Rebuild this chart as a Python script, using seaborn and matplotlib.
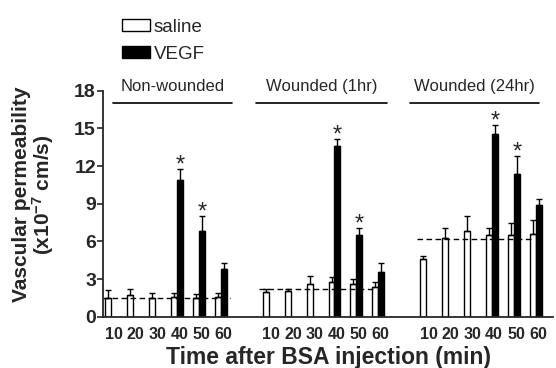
import numpy as np
import pandas as pd
import matplotlib
matplotlib.use("Agg")
import matplotlib.pyplot as plt
import seaborn as sns
from matplotlib.patches import Patch

# Dati
times = [10, 20, 30, 40, 50, 60]
groups = ["Non-wounded", "Wounded (1hr)", "Wounded (24hr)"]

saline_mean = [
    [1.5, 1.75, 1.5, 1.6, 1.5, 1.6],
    [2.0, 2.05, 2.65, 2.8, 2.6, 2.35],
    [4.6, 6.3, 6.85, 6.55, 6.55, 6.6],
]
saline_err = [
    [0.6, 0.5, 0.4, 0.3, 0.3, 0.3],
    [0.2, 0.15, 0.6, 0.35, 0.45, 0.4],
    [0.25, 0.8, 1.2, 0.55, 0.9, 1.1],
]
vegf_times = [40, 50, 60]
vegf_mean = [
    [10.9, 6.8, 3.8],
    [13.6, 6.55, 3.6],
    [14.55, 11.4, 8.9],
]
vegf_err = [
    [0.9, 1.2, 0.5],
    [0.55, 0.55, 0.65],
    [0.7, 1.4, 0.45],
]
vegf_sig = [True, True, False]
baseline = [1.5, 2.2, 6.2]

# Costruzione tabella
group_offset = [0.0, 7.2, 14.4]
rows = []
for g in range(3):
    for i, t in enumerate(times):
        rows.append(dict(pos=group_offset[g] + i, treatment="saline",
                         value=saline_mean[g][i], err=saline_err[g][i]))
    for j, t in enumerate(vegf_times):
        i = times.index(t)
        rows.append(dict(pos=group_offset[g] + i, treatment="VEGF",
                         value=vegf_mean[g][j], err=vegf_err[g][j]))
df = pd.DataFrame(rows)

sns.set_style("ticks")
plt.rcParams["font.family"] = ["Liberation Sans", "DejaVu Sans"]
plt.rcParams["mathtext.fontset"] = "custom"
plt.rcParams["mathtext.rm"] = "Liberation Sans:bold"
plt.rcParams["mathtext.default"] = "rm"

fig = plt.figure(figsize=(5.56, 3.68), dpi=100)
ax = fig.add_axes([0.185, 0.139, 0.81, 0.6145])

bw = 0.54
sns.barplot(data=df, x="pos", y="value", hue="treatment", native_scale=True,
            hue_order=["saline", "VEGF"], palette={"saline": "white", "VEGF": "black"},
            edgecolor="black", linewidth=1, width=bw, errorbar=None, legend=False, ax=ax)

# Barre d'errore (solo verso l'alto)
for _, r in df.iterrows():
    x = r["pos"] + (-bw / 4 if r["treatment"] == "saline" else bw / 4)
    ax.errorbar(x, r["value"], yerr=[[0], [r["err"]]], fmt="none", ecolor="black",
                elinewidth=1, capsize=2.5, capthick=1)

# Asterischi
for g in range(3):
    for j, t in enumerate(vegf_times):
        if vegf_sig[j]:
            x = group_offset[g] + times.index(t) + bw / 4
            ax.text(x, vegf_mean[g][j] + vegf_err[g][j] - 0.6, "*", ha="center", va="bottom",
                    fontsize=17)

# Linee tratteggiate di base
dash_span = [(-0.4, 5.4), (-0.45, 4.9), (-0.45, 4.85)]
for g in range(3):
    a, b = dash_span[g]
    ax.plot([group_offset[g] + a, group_offset[g] + b], [baseline[g]] * 2,
            color="black", ls="--", lw=1, dashes=(4, 2.5))

# Titoli dei gruppi
line_span = [(0.07, 5.5), (-0.6, 5.4), (-0.75, 5.15)]
for g in range(3):
    a, b = line_span[g]
    ax.plot([group_offset[g] + a, group_offset[g] + b], [17.05, 17.05], color="black",
            lw=1.2, clip_on=False)
    ax.text(group_offset[g] + (a + b) / 2, 17.7, groups[g], ha="center", va="bottom",
            fontsize=12, clip_on=False)

ax.set_xlim(-0.39, 20.2)
ax.set_ylim(0, 18)
ax.set_yticks([0, 3, 6, 9, 12, 15, 18])
ticks = [group_offset[g] + i + 0.1 for g in range(3) for i in range(6)]
ax.set_xticks(ticks)
ax.set_xticklabels([str(t) for _ in range(3) for t in times], fontsize=11.5, fontweight="bold")
for lab in ax.get_yticklabels():
    lab.set_fontweight("bold")
    lab.set_fontsize(14)
ax.tick_params(axis="x", length=0, pad=7)
ax.tick_params(axis="y", length=4, width=1.2, pad=1)
sns.despine(ax=ax)
for s in ["left", "bottom"]:
    ax.spines[s].set_linewidth(1.3)

ax.set_xlabel("Time after BSA injection (min)", fontsize=16.5, fontweight="bold", labelpad=3)
ax.set_ylabel("Vascular permeability\n(x10$^{-7}$ cm/s)", fontsize=15, fontweight="bold",
              linespacing=1.0)
ax.yaxis.set_label_coords(-0.103, 0.54)

handles = [Patch(facecolor="white", edgecolor="black", lw=1, label="saline"),
           Patch(facecolor="black", edgecolor="black", lw=1, label="VEGF")]
fig.legend(handles=handles, loc="upper left", bbox_to_anchor=(0.196, 0.985), frameon=False,
           fontsize=13.5, handlelength=1.5, handleheight=0.6, handletextpad=0.2,
           labelspacing=0.55, borderaxespad=0.3)

fig.savefig("out.png", dpi=100)
